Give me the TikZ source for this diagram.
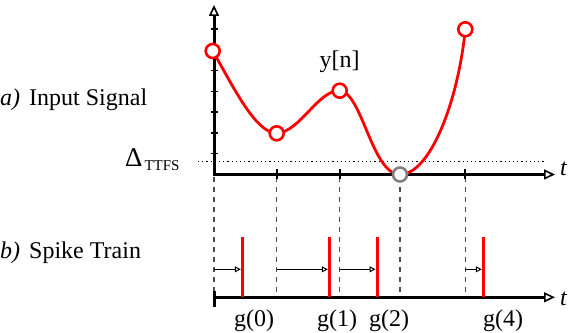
\documentclass[tikz,border=0pt]{standalone}
\usepackage{fontspec}
\setmainfont{Liberation Serif}
\usetikzlibrary{arrows.meta,positioning}

\begin{document}
\begin{tikzpicture}[x=1pt, y=1pt,
    lbl/.style={inner sep=0pt, font=\fontsize{24}{28}\selectfont},
    axis/.style={line width=3pt, -{Triangle[open, length=11pt, width=10pt, line width=1.6pt]}},
    signal/.style={red, line width=2.8pt},
    sample/.style={circle, draw=red, fill=white, line width=2.6pt, minimum size=14pt, inner sep=0pt},
    zero/.style={sample, draw=gray},
    spike/.style={red, line width=3pt},
    delay/.style={line width=1.2pt, -{Triangle[open, length=6pt, width=6pt, line width=1pt]}},
    guide/.style={black!70, line width=1.3pt, dash pattern=on 5pt off 5pt},
    threshold/.style={line width=1.2pt, dash pattern=on 1.2pt off 3pt}
]
\useasboundingbox (0,0) rectangle (570,332);

% labels on the left
\node[lbl, anchor=base west] (la) at (0,226) {\textit{a)}\hspace{9pt}Input Signal};
\node[lbl, anchor=base west] (lb) at (0,73) {\textit{b)}\hspace{9pt}Spike Train};
\node[lbl, anchor=base west] (ld) at (125,165) {\fontsize{27}{28}\selectfont Δ\hspace{2pt}\raisebox{-4pt}{\fontsize{15}{15}\selectfont TTFS}};

% sample instants and spike times
\foreach \n/\x in {0/214,1/276.7,2/339.7,3/400,4/465.3}
    \coordinate (t\n) at (\x,157.5);
\foreach \n/\x in {0/242.3,1/329.3,2/377,4/483.3}
    \coordinate (g\n) at (\x,34.7);

% guides
\draw[threshold] (198,170.3) -- (544,170.3);
\foreach \n in {0,...,4}
    \draw[guide] ([yshift=-2.5pt]t\n) -- (t\n |- 0,40);

% top axes
\coordinate (o1) at (214,157.5);
\draw[axis] ([yshift=-1.5pt]o1) -- (214,327);
\draw[axis] (o1) -- (555,157.5);
\node[lbl, anchor=base west] (x1) at (560,156) {\textit{t}};
\foreach \k in {1,...,7}
    \draw[line width=1.5pt] (210.5,157.5+20.8*\k) -- (217.5,157.5+20.8*\k);
\foreach \n in {1,...,4}
    \draw[line width=1.8pt] ([yshift=-5pt]t\n) -- ([yshift=5pt]t\n);

% input signal
\coordinate (s0) at (212.7,281);
\coordinate (s1) at (276.7,198.7);
\coordinate (s2) at (339.7,241.3);
\coordinate (s3) at (400,157.5);
\coordinate (s4) at (465.3,302.7);
\draw[signal] (s0) .. controls (232,248) and (255,199) .. (s1)
    .. controls (300,200) and (318,242) .. (s2)
    .. controls (362,240) and (372,157.5) .. (s3)
    .. controls (430,157.5) and (458,230) .. (s4);
\node[sample] (c0) at (s0) {};
\node[sample] (c1) at (s1) {};
\node[sample] (c2) at (s2) {};
\node[zero] (c3) at (s3) {};
\node[sample] (c4) at (s4) {};
\node[lbl, anchor=base] (yn) at (339.5,264) {y[n]};

% bottom axis
\coordinate (o2) at (214,34.7);
\draw[line width=3pt] (214,25.3) -- (214,41.3);
\draw[axis] (o2) -- (555,34.7);
\node[lbl, anchor=base west] (x2) at (560,27) {\textit{t}};

% spike train
\foreach \n in {0,1,2,4}
    \draw[spike] (g\n) -- ++(0,60.6);
\foreach \n in {0,1,2,4}
    \draw[delay] (t\n |- 0,62.7) -- ([xshift=-1.5pt]g\n |- 0,62.7);

\node[lbl, anchor=base] (n0) at (254,6) {g(0)};
\node[lbl, anchor=base] (n1) at (337,6) {g(1)};
\node[lbl, anchor=base] (n2) at (389,6) {g(2)};
\node[lbl, anchor=base] (n4) at (503,6) {g(4)};
\end{tikzpicture}
\end{document}
